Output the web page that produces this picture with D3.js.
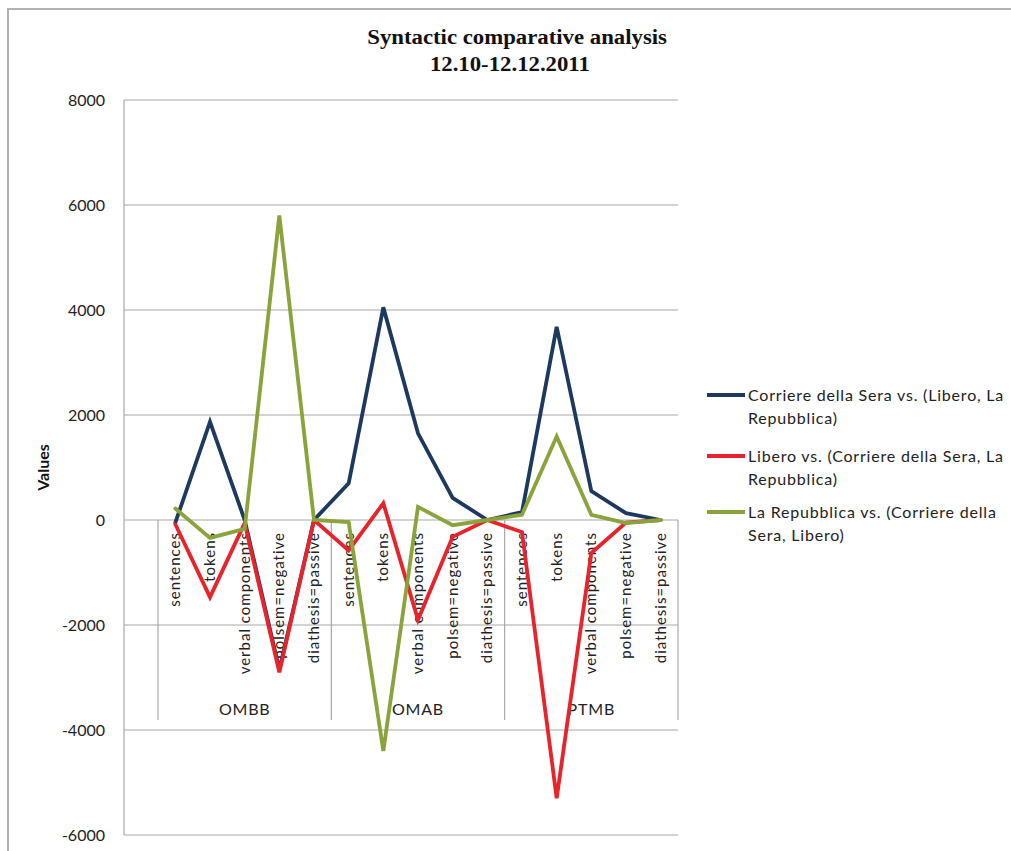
<!DOCTYPE html>
<html>
<head>
<meta charset="utf-8">
<script src="https://cdn.jsdelivr.net/npm/d3@7"></script>
<style>
  html, body { margin: 0; padding: 0; background: #fff; }
  svg { display: block; }
</style>
</head>
<body>
<svg id="chart" width="1011" height="851"></svg>
<script>
// ---- data ----
const groups = ["OMBB", "OMAB", "PTMB"];
const subCategories = ["sentences", "tokens", "verbal components", "polsem=negative", "diathesis=passive"];
const seriesNames = [
  ["Corriere della Sera vs. (Libero, La", "Repubblica)"],
  ["Libero vs. (Corriere della Sera, La", "Repubblica)"],
  ["La Repubblica vs. (Corriere della", "Sera, Libero)"]
];
const corriereValues = [-50, 1870, 0, -2850, 0,   700, 4050, 1650, 420, 0,   150, 3680, 550, 130, 0];
const liberoValues   = [-80, -1470, -60, -2900, 0,  -580, 320, -1900, -320, 0,  -230, -5300, -630, -50, 0];
const repubblicaValues = [220, -340, -170, 5800, 0,  -40, -4400, 250, -100, 0,  100, 1590, 100, -60, 0];
const yTicks = [8000, 6000, 4000, 2000, 0, -2000, -4000, -6000];
const colors = ["#1d3a5e", "#e8232b", "#8aa33b"];

const svg = d3.select("#chart");
const font = "Lato, 'Open Sans', sans-serif";

// frame
svg.append("path").attr("d", "M8,851 L8,9 L1011,9")
  .attr("fill", "none").attr("stroke", "#b3b3b3").attr("stroke-width", 2);

// scales
const plotLeft = 124, plotRight = 678, catLeft = 158;
const y = d3.scaleLinear().domain([-6000, 8000]).range([835, 100]);
const categories = [];
groups.forEach(g => subCategories.forEach(s => categories.push(g + "|" + s)));
const x = d3.scaleBand().domain(categories).range([catLeft, plotRight]);
const xc = d => x(d) + x.bandwidth() / 2;

// gridlines
svg.append("g").selectAll("line").data(yTicks).join("line")
  .attr("x1", plotLeft).attr("x2", plotRight)
  .attr("y1", d => y(d)).attr("y2", d => y(d))
  .attr("stroke", "#a8a8a8").attr("stroke-width", 1.2);
// y axis line
svg.append("line").attr("x1", plotLeft).attr("x2", plotLeft)
  .attr("y1", y(8000)).attr("y2", y(-6000))
  .attr("stroke", "#a8a8a8").attr("stroke-width", 1.2);

// y tick labels
svg.append("g").selectAll("text").data(yTicks).join("text")
  .attr("x", 105).attr("y", d => y(d)).attr("dy", "0.35em")
  .attr("text-anchor", "end").attr("font-family", font).attr("font-size", 16)
  .attr("fill", "#222").text(d => d);

// y axis title
svg.append("text").attr("transform", `translate(49,${(y(8000)+y(-6000))/2}) rotate(-90)`)
  .attr("text-anchor", "middle").attr("font-family", font).attr("font-weight", "bold")
  .attr("font-size", 16).attr("fill", "#111").text("Values");

// group separators
const sepX = [catLeft];
groups.forEach((g, i) => sepX.push(x(g + "|" + subCategories[subCategories.length - 1]) + x.bandwidth()));
svg.append("g").selectAll("line").data(sepX).join("line")
  .attr("x1", d => d).attr("x2", d => d).attr("y1", y(0)).attr("y2", 720)
  .attr("stroke", "#a8a8a8").attr("stroke-width", 1.2);

// category labels (rotated)
svg.append("g").selectAll("text").data(categories).join("text")
  .attr("transform", d => `translate(${xc(d) + 5},532) rotate(-90)`)
  .attr("text-anchor", "end").attr("font-family", font).attr("font-size", 15)
  .attr("letter-spacing", 1).attr("fill", "#222")
  .text(d => d.split("|")[1]);

// group labels
svg.append("g").selectAll("text").data(groups).join("text")
  .attr("x", (g, i) => (sepX[i] + sepX[i + 1]) / 2).attr("y", 715)
  .attr("text-anchor", "middle").attr("font-family", font).attr("font-size", 16)
  .attr("letter-spacing", 0.8).attr("fill", "#222").text(d => d);

// lines
const allSeries = [corriereValues, liberoValues, repubblicaValues];
const line = d3.line().x((d, i) => xc(categories[i])).y(d => y(d));
svg.append("g").selectAll("path").data(allSeries).join("path")
  .attr("d", d => line(d)).attr("fill", "none")
  .attr("stroke", (d, i) => colors[i]).attr("stroke-width", 3.8)
  .attr("stroke-linejoin", "miter").attr("stroke-linecap", "round");

// legend
const legendY = [395, 456, 512];
const lg = svg.append("g").selectAll("g").data(seriesNames).join("g")
  .attr("transform", (d, i) => `translate(707,${legendY[i]})`);
lg.append("line").attr("x1", 0).attr("x2", 38).attr("y1", 0).attr("y2", 0)
  .attr("stroke", (d, i) => colors[i]).attr("stroke-width", 3.8);
lg.each(function(d) {
  const g = d3.select(this);
  d.forEach((t, j) => g.append("text").attr("x", 41).attr("y", 6 + j * 23)
    .attr("font-family", font).attr("font-size", 16).attr("letter-spacing", 0.8)
    .attr("fill", "#222").text(t));
});

// title
const tg = svg.append("g").attr("font-family", "'Liberation Serif', 'Times New Roman', serif")
  .attr("font-weight", "bold").attr("font-size", 22).attr("fill", "#111");
const t1 = tg.append("text").attr("x", 517).attr("y", 44).attr("text-anchor", "middle")
  .text("Syntactic comparative analysis");
const t2 = tg.append("text").attr("x", 510).attr("y", 71).attr("text-anchor", "middle")
  .text("12.10-12.12.2011");
const w1 = t1.node().getComputedTextLength();
const sx = 300 / w1;
tg.attr("transform", `translate(${513 * (1 - sx)},0) scale(${sx},1)`);
</script>
</body>
</html>
